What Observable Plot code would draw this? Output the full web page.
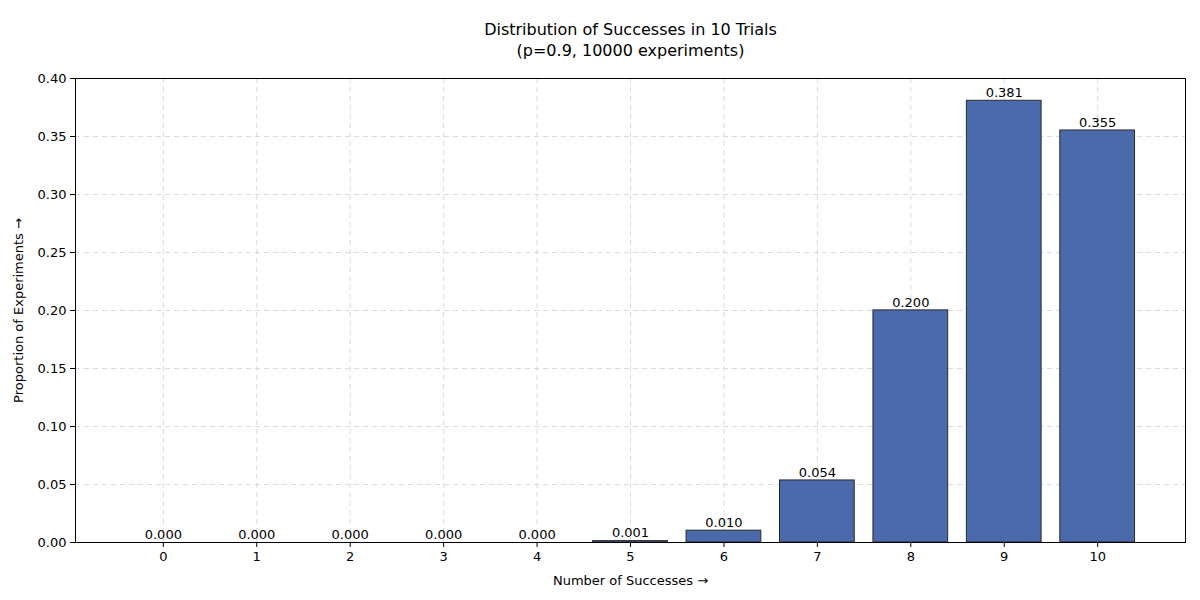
<!DOCTYPE html>
<html>
<head>
<meta charset="utf-8">
<script src="https://cdn.jsdelivr.net/npm/d3@7"></script>
<script src="https://cdn.jsdelivr.net/npm/@observablehq/plot@0.6"></script>
<style>body{margin:0;background:#fff;font-family:"DejaVu Sans",sans-serif}</style>
</head>
<body>
<div id="chart"></div>
<script>
const successes = [0, 1, 2, 3, 4, 5, 6, 7, 8, 9, 10]
const proportions = [0, 0, 0, 0, 0, 0.0012, 0.0102, 0.0535, 0.2001, 0.3808, 0.3552]
const labels = ["0.000", "0.000", "0.000", "0.000", "0.000", "0.001", "0.010", "0.054", "0.200", "0.381", "0.355"]
const yTicks = [0, 0.05, 0.1, 0.15, 0.2, 0.25, 0.3, 0.35, 0.4]

const data = successes.map((k, i) => ({k, p: proportions[i], label: labels[i]}))

let chart = Plot.plot({
  width: 1200,
  height: 600,
  marginLeft: 75,
  marginRight: 15,
  marginTop: 78,
  marginBottom: 58,
  style: {fontFamily: "DejaVu Sans, sans-serif", fontSize: "13px", color: "#000"},
  x: {domain: [-0.94, 10.94], ticks: successes, tickFormat: d => d, label: "Number of Successes", labelAnchor: "center", labelOffset: 42, tickSize: 5},
  y: {domain: [0, 0.4], ticks: yTicks, tickFormat: d3.format(".2f"), label: "Proportion of Experiments", labelAnchor: "center", labelOffset: 62, tickSize: 5},
  marks: [
    Plot.gridX(successes, {stroke: "#ccc", strokeOpacity: 0.7, strokeDasharray: "5,4"}),
    Plot.gridY(yTicks, {stroke: "#ccc", strokeOpacity: 0.7, strokeDasharray: "5,4"}),
    Plot.rectY(data, {x1: d => d.k - 0.4, x2: d => d.k + 0.4, y1: 0, y2: "p", fill: "#4a6aab", stroke: "#2b2b2b", strokeWidth: 1}),
    Plot.text(data, {x: "k", y: "p", text: "label", dy: -8, fontSize: 13, fill: "#000"}),
    Plot.frame({stroke: "#000"}),
    Plot.text(["Distribution of Successes in 10 Trials"], {frameAnchor: "top", dy: -55, fontSize: 16, fill: "#000"}),
    Plot.text(["(p=0.9, 10000 experiments)"], {frameAnchor: "top", dy: -34, fontSize: 16, fill: "#000"})
  ]
})
d3.select('#chart').append(() => chart)
</script>
</body>
</html>
